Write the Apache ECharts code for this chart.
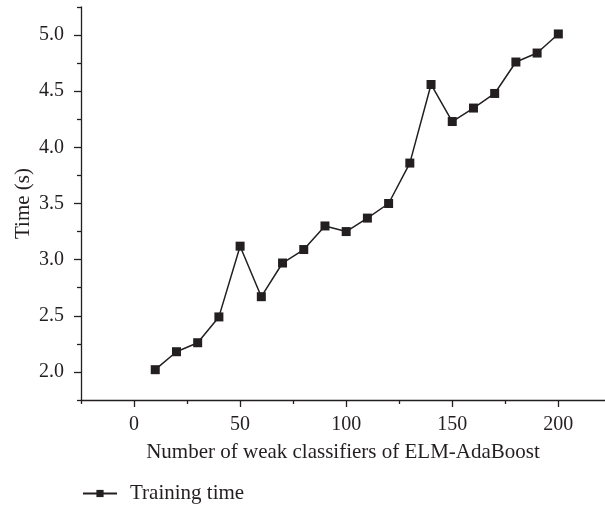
<!DOCTYPE html>
<html>
<head>
<meta charset="utf-8">
<script src="https://cdn.jsdelivr.net/npm/echarts@6/dist/echarts.min.js"></script>
<style>html,body{margin:0;padding:0;background:#fff}#c{width:605px;height:507px}</style>
</head>
<body>
<div id="c"></div>
<script>
const classifiers = [10,20,30,40,50,60,70,80,90,100,110,120,130,140,150,160,170,180,190,200];
const trainingTime = [2.02,2.18,2.26,2.49,3.12,2.67,2.97,3.09,3.30,3.25,3.37,3.50,3.86,4.56,4.23,4.35,4.48,4.76,4.84,5.01];
const xMajorTicks = [0,50,100,150,200];
const xMinorTicks = [-25,25,75,125,175];
const yMajorTicks = [2.0,2.5,3.0,3.5,4.0,4.5,5.0];
const yMinorTicks = [1.75,2.25,2.75,3.25,3.75,4.25,4.75,5.25];

const FONT = 'Liberation Serif';
const FS = 20;
const NFS = 21;
const INK = '#231f20';
const chart = echarts.init(document.getElementById('c'), null, {renderer:'canvas'});
const xMin = -25, xMax = 222, yMin = 1.75, yMax = 5.25;

function tickAxis(isX, vals, len){
  return {
    type:'value', min:isX?xMin:yMin, max:isX?xMax:yMax, position:isX?'bottom':'left',
    axisLine:{show:false,onZero:false},
    axisTick:{show:true,length:len,customValues:vals,lineStyle:{color:INK,width:1.3}},
    axisLabel:{show:false},
    splitLine:{show:false}
  };
}

chart.setOption({
  animation:false,
  backgroundColor:'#fff',
  textStyle:{fontFamily:FONT,color:INK},
  grid:{left:81,top:7,right:0,bottom:107,containLabel:false},
  legend:{
    left:77, top:478, itemWidth:34, itemHeight:9, itemGap:10,
    textStyle:{fontFamily:FONT,fontSize:NFS,color:INK,padding:[0,0,0,8]},
    data:['Training time']
  },
  xAxis:[{
    type:'value', min:xMin, max:xMax, position:'bottom',
    name:'Number of weak classifiers of ELM-AdaBoost', nameLocation:'middle', nameGap:42,
    nameMoveOverlap:false,
    nameTextStyle:{fontFamily:FONT,fontSize:NFS,color:INK},
    axisLine:{show:true,onZero:false,lineStyle:{color:INK,width:1.3}},
    axisTick:{show:false},
    axisLabel:{customValues:xMajorTicks,fontFamily:FONT,fontSize:FS,color:INK,margin:15},
    splitLine:{show:false}
  }, tickAxis(true, xMajorTicks, 7), tickAxis(true, xMinorTicks, 4)],
  yAxis:[{
    type:'value', min:yMin, max:yMax, position:'left',
    name:'Time (s)', nameLocation:'middle', nameGap:47,
    nameMoveOverlap:false,
    nameTextStyle:{fontFamily:FONT,fontSize:NFS,color:INK},
    axisLine:{show:true,onZero:false,lineStyle:{color:INK,width:1.3}},
    axisTick:{show:false},
    axisLabel:{customValues:yMajorTicks,fontFamily:FONT,fontSize:FS,color:INK,margin:17,
      formatter:v=>v.toFixed(1)},
    splitLine:{show:false}
  }, tickAxis(false, yMajorTicks, 7), tickAxis(false, yMinorTicks, 4)],
  series:[{
    name:'Training time', type:'line',
    xAxisIndex:0, yAxisIndex:0,
    data: classifiers.map((x,i)=>[x,trainingTime[i]]),
    symbol:'rect', symbolSize:9,
    lineStyle:{color:INK,width:1.5},
    itemStyle:{color:INK},
    color:INK
  }]
});
</script>
</body>
</html>
